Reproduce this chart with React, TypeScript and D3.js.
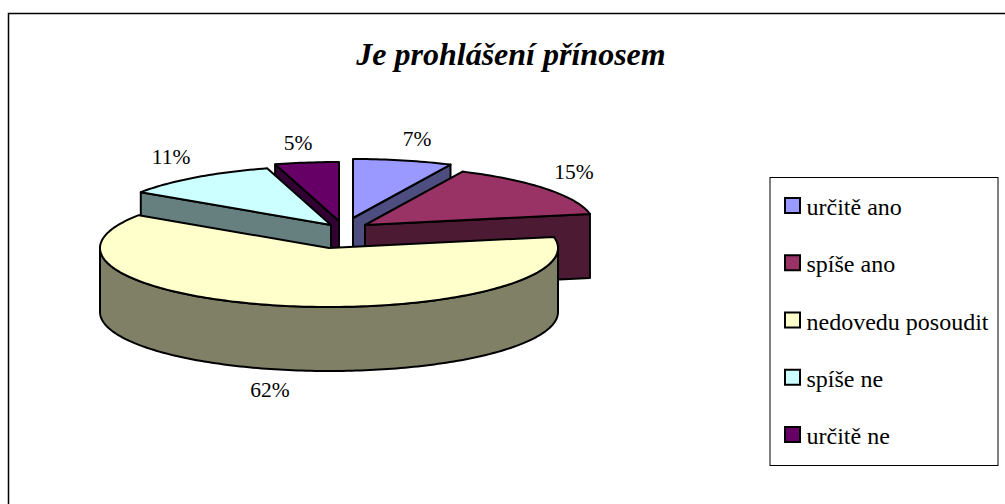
import * as d3 from "d3";

const categories = ["určitě ano", "spíše ano", "nedovedu posoudit", "spíše ne", "určitě ne"];
const values = [7, 15, 62.4, 11.1, 4.5];
const valueLabels = ["7%", "15%", "62%", "11%", "5%"];
const colors = ["#9999ff", "#993366", "#ffffcc", "#ccffff", "#660066"];
const title = "Je prohlášení přínosem";

// vysunutí výsečí v pixelech
const explodeX = [24, 36, 0, 2, 10];
const explodeY = [-30, -23, 0, -23, -27];
// pozice popisků
const labelX = [417, 574, 270, 171, 298];
const labelY = [146, 179, 397, 164, 150];

const W = 1005;
const H = 504;
const cx = 329;
const cy = 248;
const rx = 229;
const ry = 59;
const depth = 64;

const font = "'Liberation Serif', 'Times New Roman', serif";

const pieData = d3.pie<number>().sort(null).startAngle(0).endAngle(2 * Math.PI)(values);

const lineGen = d3.line<[number, number]>();

// bod na elipse, úhel od severu po směru hodinek
const rim = (a: number, ox: number, oy: number): [number, number] => [
  cx + ox + rx * Math.sin(a),
  cy + oy - ry * Math.cos(a),
];

const arcPoints = (a0: number, a1: number, ox: number, oy: number) => {
  const n = Math.max(2, Math.ceil((a1 - a0) / 0.02));
  return d3.range(n + 1).map((i) => rim(a0 + ((a1 - a0) * i) / n, ox, oy));
};

const wallColor = (c: string) => {
  const r = d3.rgb(c);
  return d3.rgb(r.r / 2, r.g / 2, r.b / 2).formatHex();
};

const sliceOrder = d3
  .range(values.length)
  .sort((a, b) => {
    const mid = (i: number) => (pieData[i].startAngle + pieData[i].endAngle) / 2;
    const my = (i: number) => rim(mid(i), explodeX[i], explodeY[i])[1];
    return my(a) - my(b);
  });

const Slice = ({ i }: { i: number }) => {
  const { startAngle: a0, endAngle: a1 } = pieData[i];
  const ox = explodeX[i];
  const oy = explodeY[i];
  const apex: [number, number] = [cx + ox, cy + oy];
  const fill = colors[i];
  const dark = wallColor(fill);
  const down = (p: [number, number]): [number, number] => [p[0], p[1] + depth];
  const cut = (a: number) => {
    const p = rim(a, ox, oy);
    return lineGen([apex, p, down(p), down(apex)]) + "Z";
  };
  const f0 = Math.max(a0, Math.PI / 2);
  const f1 = Math.min(a1, (3 * Math.PI) / 2);
  let wall: string | null = null;
  if (f1 > f0) {
    const top = arcPoints(f0, f1, ox, oy);
    wall = lineGen([...top, ...top.map(down).reverse()]) + "Z";
  }
  const face = lineGen([apex, ...arcPoints(a0, a1, ox, oy)]) + "Z";
  const stroke = { stroke: "#000", strokeWidth: 2, strokeLinejoin: "round" as const };
  return (
    <g>
      {Math.sin(a0) < -1e-6 && <path d={cut(a0)} fill={dark} {...stroke} />}
      {Math.sin(a1) > 1e-6 && <path d={cut(a1)} fill={dark} {...stroke} />}
      {wall && <path d={wall} fill={dark} {...stroke} />}
      <path d={face} fill={fill} {...stroke} />
    </g>
  );
};

const legendX = 770;
const legendY = 177.5;
const legendW = 228;
const legendH = 288;
const legendScale = d3
  .scalePoint<string>()
  .domain(categories)
  .range([215, 444]);

export default function App() {
  return (
    <svg
      width={W}
      height={H}
      style={{ position: "absolute", left: 0, top: 0, background: "#fff", fontFamily: font }}
    >
      <path d={`M8.5,${H}V13.5H${W}`} fill="none" stroke="#000" strokeWidth={1.5} />
      <text
        x={511}
        y={65}
        textAnchor="middle"
        fontSize={32}
        fontWeight="bold"
        fontStyle="italic"
        fill="#000"
      >
        {title}
      </text>

      {sliceOrder.map((i) => (
        <Slice key={i} i={i} />
      ))}

      {valueLabels.map((t, i) => (
        <text key={t} x={labelX[i]} y={labelY[i]} textAnchor="middle" fontSize={21.5} fill="#000">
          {t}
        </text>
      ))}

      <rect x={legendX} y={legendY} width={legendW} height={legendH} fill="#fff" stroke="#000" strokeWidth={1} />
      {categories.map((c, i) => {
        const y = legendScale(c) as number;
        return (
          <g key={c}>
            <rect x={785} y={y - 17} width={15} height={15} fill={colors[i]} stroke="#000" strokeWidth={2} />
            <text x={806.5} y={y} fontSize={24} fill="#000">
              {c}
            </text>
          </g>
        );
      })}
    </svg>
  );
}
